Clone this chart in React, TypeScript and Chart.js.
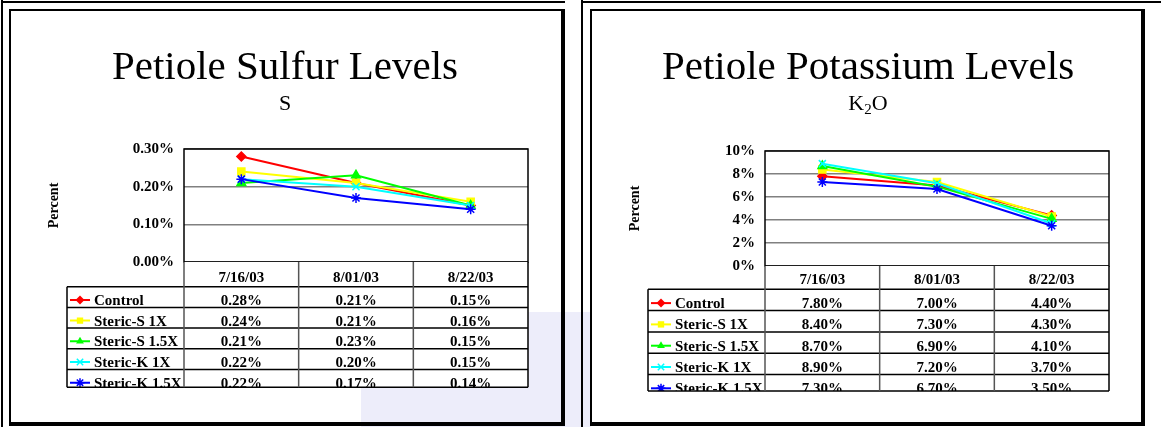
import React, { useEffect, useRef } from 'react';
import { Chart, registerables } from 'chart.js';

Chart.register(...registerables);

// ---------- data ----------
const DATES = ['7/16/03', '8/01/03', '8/22/03'];
const SERIES_NAMES = ['Control', 'Steric-S 1X', 'Steric-S 1.5X', 'Steric-K 1X', 'Steric-K 1.5X'];
const SERIES_COLORS = ['#FF0000', '#FFFF00', '#00FF00', '#00FFFF', '#0000FF'];
const SERIES_MARKERS = ['rectRot', 'rect', 'triangle', 'crossRot', 'star'];

const SULFUR_CONTROL = [0.28, 0.21, 0.15];
const SULFUR_S1X = [0.24, 0.21, 0.16];
const SULFUR_S15X = [0.21, 0.23, 0.15];
const SULFUR_K1X = [0.22, 0.2, 0.15];
const SULFUR_K15X = [0.22, 0.17, 0.14];
const SULFUR_TICKS = { min: 0, max: 0.3, step: 0.1, decimals: 2 };

const POTASSIUM_CONTROL = [7.8, 7.0, 4.4];
const POTASSIUM_S1X = [8.4, 7.3, 4.3];
const POTASSIUM_S15X = [8.7, 6.9, 4.1];
const POTASSIUM_K1X = [8.9, 7.2, 3.7];
const POTASSIUM_K15X = [7.3, 6.7, 3.5];
const POTASSIUM_TICKS = { min: 0, max: 10, step: 2, decimals: 0 };

const SERIF = '"Liberation Serif", "Times New Roman", serif';

type Part = { text: string; sub?: boolean };

interface PanelCfg {
  title: string;
  subtitle: Part[];
  series: number[][];
  ticks: { min: number; max: number; step: number; decimals: number };
  tableDecimals: number;
  pad: { top: number; bottom: number; right: number };
  yAxisWidth: number;
  headerH: number;
  rowH: number;
  tableBottom: number;
  centerX: number;
}

const SULFUR: PanelCfg = {
  title: 'Petiole Sulfur Levels',
  subtitle: [{ text: 'S' }],
  series: [SULFUR_CONTROL, SULFUR_S1X, SULFUR_S15X, SULFUR_K1X, SULFUR_K15X],
  ticks: SULFUR_TICKS,
  tableDecimals: 2,
  pad: { top: 149, bottom: 165, right: 52 },
  yAxisWidth: 184,
  headerH: 24.7,
  rowH: 20.7,
  tableBottom: 387.3,
  centerX: 285,
};

const POTASSIUM: PanelCfg = {
  title: 'Petiole Potassium Levels',
  subtitle: [{ text: 'K' }, { text: '2', sub: true }, { text: 'O' }],
  series: [POTASSIUM_CONTROL, POTASSIUM_S1X, POTASSIUM_S15X, POTASSIUM_K1X, POTASSIUM_K15X],
  ticks: POTASSIUM_TICKS,
  tableDecimals: 2,
  pad: { top: 151, bottom: 161, right: 52 },
  yAxisWidth: 185,
  headerH: 23.3,
  rowH: 21.3,
  tableBottom: 391,
  centerX: 288,
};

function drawMarker(ctx: CanvasRenderingContext2D, style: string, x: number, y: number, r: number, color: string) {
  ctx.save();
  ctx.fillStyle = color;
  ctx.strokeStyle = color;
  ctx.lineWidth = 1.5;
  ctx.beginPath();
  if (style === 'rectRot') {
    ctx.moveTo(x, y - r);
    ctx.lineTo(x + r, y);
    ctx.lineTo(x, y + r);
    ctx.lineTo(x - r, y);
    ctx.closePath();
    ctx.fill();
  } else if (style === 'rect') {
    const s = r * Math.SQRT1_2;
    ctx.rect(x - s, y - s, 2 * s, 2 * s);
    ctx.fill();
  } else if (style === 'triangle') {
    const h = r * 0.866;
    ctx.moveTo(x, y - r);
    ctx.lineTo(x + h, y + r / 2);
    ctx.lineTo(x - h, y + r / 2);
    ctx.closePath();
    ctx.fill();
  } else if (style === 'crossRot') {
    const s = r * Math.SQRT1_2;
    ctx.moveTo(x - s, y - s);
    ctx.lineTo(x + s, y + s);
    ctx.moveTo(x - s, y + s);
    ctx.lineTo(x + s, y - s);
    ctx.stroke();
  } else {
    const s = r * Math.SQRT1_2;
    ctx.moveTo(x - s, y - s);
    ctx.lineTo(x + s, y + s);
    ctx.moveTo(x - s, y + s);
    ctx.lineTo(x + s, y - s);
    ctx.moveTo(x, y - r);
    ctx.lineTo(x, y + r);
    ctx.moveTo(x - r, y);
    ctx.lineTo(x + r, y);
    ctx.stroke();
  }
  ctx.restore();
}

const sheetPlugin = {
  id: 'sheet',
  beforeDatasetsDraw(chart: any) {
    const { ctx, chartArea: a } = chart;
    ctx.save();
    ctx.strokeStyle = '#000';
    ctx.lineWidth = 1.5;
    ctx.strokeRect(a.left, a.top, a.right - a.left, a.bottom - a.top);
    ctx.restore();
  },
  afterDraw(chart: any, _args: any, o: any) {
    const cfg: PanelCfg = o.cfg;
    const { ctx, chartArea: a } = chart;
    const xs = chart.scales.x;
    ctx.save();
    ctx.fillStyle = '#000';
    // title
    ctx.textAlign = 'center';
    ctx.textBaseline = 'alphabetic';
    ctx.font = `41px ${SERIF}`;
    ctx.fillText(cfg.title, cfg.centerX, 79);
    // subtitle
    const big = `22px ${SERIF}`;
    const small = `15px ${SERIF}`;
    let total = 0;
    cfg.subtitle.forEach((p) => {
      ctx.font = p.sub ? small : big;
      total += ctx.measureText(p.text).width;
    });
    let sx = cfg.centerX - total / 2;
    ctx.textAlign = 'left';
    cfg.subtitle.forEach((p) => {
      ctx.font = p.sub ? small : big;
      ctx.fillText(p.text, sx, p.sub ? 114 : 110);
      sx += ctx.measureText(p.text).width;
    });
    // axis title
    ctx.save();
    ctx.translate(a.left - 130, (a.top + a.bottom) / 2);
    ctx.rotate(-Math.PI / 2);
    ctx.textAlign = 'center';
    ctx.textBaseline = 'middle';
    ctx.font = `bold 14px ${SERIF}`;
    ctx.fillText('Percent', 0, 0);
    ctx.restore();

    // data table
    const tl = a.left - 117;
    const tr = a.right;
    const hTop = a.bottom;
    const hBot = hTop + cfg.headerH;
    const bottom = cfg.tableBottom;
    ctx.fillStyle = '#fff';
    ctx.fillRect(a.left, hTop, tr - a.left, hBot - hTop);
    ctx.fillRect(tl, hBot, tr - tl, bottom - hBot);

    ctx.save();
    ctx.beginPath();
    ctx.rect(tl - 2, hTop, tr - tl + 4, bottom - hTop);
    ctx.clip();
    ctx.fillStyle = '#000';
    ctx.font = `bold 15px ${SERIF}`;
    ctx.textAlign = 'center';
    ctx.textBaseline = 'alphabetic';
    chart.data.labels.forEach((lab: string, i: number) => {
      ctx.fillText(lab, xs.getPixelForValue(i), hBot - 5);
    });
    chart.data.datasets.forEach((ds: any, r: number) => {
      const rowTop = hBot + r * cfg.rowH;
      const base = rowTop + cfg.rowH - 2.5;
      const my = base - 5;
      ctx.save();
      ctx.strokeStyle = ds.borderColor;
      ctx.lineWidth = 2;
      ctx.beginPath();
      ctx.moveTo(tl + 3, my);
      ctx.lineTo(tl + 23, my);
      ctx.stroke();
      ctx.restore();
      drawMarker(ctx, ds.pointStyle, tl + 13, my, 4.5, ds.borderColor);
      ctx.fillStyle = '#000';
      ctx.textAlign = 'left';
      ctx.fillText(ds.label, tl + 27, base);
      ctx.textAlign = 'center';
      ds.data.forEach((v: number, i: number) => {
        ctx.fillText(v.toFixed(cfg.tableDecimals) + '%', xs.getPixelForValue(i), base);
      });
    });
    ctx.restore();

    // grid lines of the table
    ctx.lineWidth = 1.5;
    ctx.strokeStyle = '#000';
    ctx.beginPath();
    for (let r = 0; r < chart.data.datasets.length; r++) {
      const y = hBot + r * cfg.rowH;
      ctx.moveTo(tl, y);
      ctx.lineTo(tr, y);
    }
    ctx.moveTo(tl, bottom);
    ctx.lineTo(tr, bottom);
    ctx.moveTo(tl, hBot);
    ctx.lineTo(tl, bottom);
    ctx.moveTo(tr, hTop);
    ctx.lineTo(tr, bottom);
    ctx.stroke();
    ctx.strokeStyle = '#555';
    ctx.beginPath();
    const n = chart.data.labels.length;
    for (let i = 0; i < n; i++) {
      const bx = i === 0 ? a.left : (xs.getPixelForValue(i - 1) + xs.getPixelForValue(i)) / 2;
      ctx.moveTo(bx, hTop);
      ctx.lineTo(bx, bottom);
    }
    ctx.stroke();
    ctx.restore();
  },
};

function Panel({ left, width, cfg }: { left: number; width: number; cfg: PanelCfg }) {
  const ref = useRef<HTMLCanvasElement>(null);
  useEffect(() => {
    if (!ref.current) return;
    const t = cfg.ticks;
    const chart = new Chart(ref.current, {
      type: 'line',
      data: {
        labels: DATES,
        datasets: cfg.series.map((vals, i) => ({
          label: SERIES_NAMES[i],
          data: vals,
          borderColor: SERIES_COLORS[i],
          backgroundColor: SERIES_COLORS[i],
          pointBackgroundColor: SERIES_COLORS[i],
          pointBorderColor: SERIES_COLORS[i],
          pointStyle: SERIES_MARKERS[i] as any,
          pointRadius: SERIES_MARKERS[i] === 'rectRot' ? 4.5 : 5,
          pointBorderWidth: 1.5,
          borderWidth: 2,
          tension: 0,
          order: SERIES_NAMES.length - i,
        })),
      },
      options: {
        animation: false,
        responsive: false,
        events: [],
        layout: { padding: { top: cfg.pad.top, bottom: cfg.pad.bottom, right: cfg.pad.right, left: 0 } },
        plugins: {
          legend: { display: false },
          tooltip: { enabled: false },
          title: { display: false },
          sheet: { cfg },
        } as any,
        scales: {
          x: { type: 'category', offset: true, display: false },
          y: {
            min: t.min,
            max: t.max,
            border: { display: false },
            grid: { color: '#808080', lineWidth: 1.5, drawTicks: false },
            ticks: {
              stepSize: t.step,
              padding: 10,
              color: '#000',
              font: { family: SERIF, size: 15, weight: 'bold' },
              callback: (v: any) => Number(v).toFixed(t.decimals) + '%',
            },
            afterFit: (s: any) => {
              s.width = cfg.yAxisWidth;
            },
          },
        },
      },
      plugins: [sheetPlugin],
    });
    return () => chart.destroy();
  }, [cfg]);
  return (
    <canvas
      ref={ref}
      width={width}
      height={427}
      style={{ position: 'absolute', left, top: 0, width, height: 427 }}
    />
  );
}

const FRAMES: number[][] = [
  [1, 0, 2, 427],
  [1, 1, 564, 2],
  [9, 9, 556, 2],
  [9, 9, 2, 417],
  [561, 9, 4, 417],
  [9, 422, 556, 4],
  [581, 0, 2, 427],
  [581, 1, 580, 2],
  [590, 9, 555, 2],
  [590, 9, 2, 417],
  [1141, 9, 4, 417],
  [590, 422, 555, 4],
];

export default function App() {
  return (
    <div style={{ position: 'fixed', left: 0, top: 0, width: 1161, height: 427, background: '#fff', overflow: 'hidden' }}>
      <div style={{ position: 'absolute', left: 361, top: 312, width: 230, height: 115, background: '#EDEDFA' }} />
      <Panel left={0} width={580} cfg={SULFUR} />
      <Panel left={580} width={581} cfg={POTASSIUM} />
      {FRAMES.map((f, i) => (
        <div
          key={i}
          style={{ position: 'absolute', left: f[0], top: f[1], width: f[2], height: f[3], background: '#000' }}
        />
      ))}
    </div>
  );
}
